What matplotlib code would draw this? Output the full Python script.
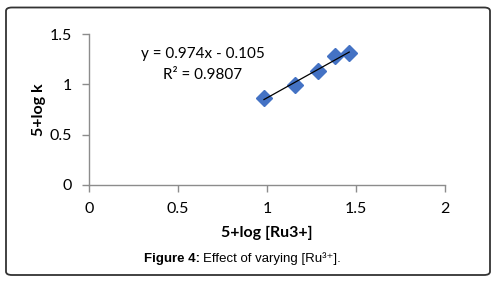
import numpy as np
import matplotlib
matplotlib.use("Agg")
import matplotlib.pyplot as plt
from matplotlib.patches import FancyBboxPatch

x_vals = [0.983, 1.157, 1.288, 1.382, 1.462]
y_vals = [0.867, 0.993, 1.129, 1.281, 1.311]
x_ticks = [0, 0.5, 1, 1.5, 2]
y_ticks = [0, 0.5, 1, 1.5]
x_label = "5+log [Ru3+]"
y_label = "5+log k"
eq_text = "y = 0.974x - 0.105"
r2_text = "R² = 0.9807"

W, H = 494, 289
fig = plt.figure(figsize=(W/100, H/100), dpi=100)
chart_font = ["Lato", "DejaVu Sans"]

ax = fig.add_axes([89/W, 1-185/H, (445-89)/W, (185-34)/H])
ax.set_xlim(0, 2)
ax.set_ylim(0, 1.5)
ax.set_xticks(x_ticks)
ax.set_yticks(y_ticks)
ax.set_xticklabels([f"{t:g}" for t in x_ticks], fontsize=11.5, family=chart_font)
ax.set_yticklabels([f"{t:g}" for t in y_ticks], fontsize=11.5, family=chart_font)
for s in ["top", "right"]:
    ax.spines[s].set_visible(False)
for s in ["left", "bottom"]:
    ax.spines[s].set_color("#8c8c8c")
    ax.spines[s].set_linewidth(1.0)
ax.tick_params(axis="both", direction="out", length=5, color="#8c8c8c", width=1.0)
ax.tick_params(axis="y", pad=7)
ax.tick_params(axis="x", pad=7)

# trendline
coef = np.polyfit(x_vals, y_vals, 1)
xs = np.array([min(x_vals), max(x_vals)])
ax.plot(xs, np.polyval(coef, xs), color="black", lw=0.9, zorder=3)
ax.plot(x_vals, y_vals, linestyle="none", marker="D", markersize=8.5,
        color="#4472C4", markeredgecolor="#4472C4", zorder=2, clip_on=False)

ax.set_xlabel(x_label, fontsize=11.5, fontweight="bold", family=chart_font, labelpad=7)
ax.set_ylabel(y_label, fontsize=11.5, fontweight="bold", family=chart_font, labelpad=3)

fig.text(203/W, 1-54/H, eq_text, ha="center", va="center", fontsize=11, family=chart_font)
fig.text(203/W, 1-75/H, r2_text, ha="center", va="center", fontsize=11, family=chart_font)

# caption
cap_font = ["Liberation Sans", "DejaVu Sans"]
t1 = fig.text(144/W, 1-259/H, "Figure 4:", ha="left", va="center", fontsize=9.5,
              fontweight="bold", family=cap_font)
fig.canvas.draw()
bb = t1.get_window_extent()
fig.text(bb.x1/W + 3/W, 1-259/H, "Effect of varying [Ru³⁺].", ha="left", va="center",
         fontsize=9.5, family=cap_font)

box = FancyBboxPatch((6/W, 1-275/H), (490-6)/W, (275-7.5)/H,
                     boxstyle="round,pad=0,rounding_size=0.012",
                     transform=fig.transFigure, fill=False, edgecolor="#333333", lw=1.3)
fig.patches.append(box)

fig.savefig("out.png", dpi=100)
